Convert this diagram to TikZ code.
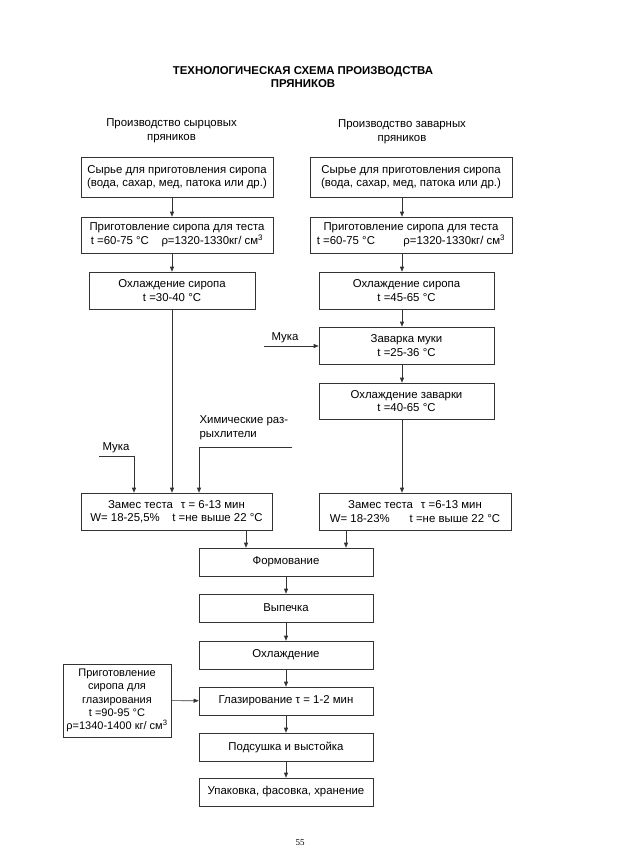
\documentclass[tikz,border=0pt]{standalone}
\usepackage{fontspec}
\setmainfont{Liberation Sans}
\newfontfamily\pagefont{Liberation Serif}
\usetikzlibrary{arrows.meta}

\begin{document}
\begin{tikzpicture}[x=1pt,y=-1pt,
  font=\fontsize{11.4}{13.5}\selectfont,
  box/.style={draw=black!80,line width=0.6pt,align=center,inner sep=1pt},
  flow/.style={draw=black!80,line width=0.6pt,-{Triangle[length=5pt,width=4pt]}}]
\path[use as bounding box] (0,0) rectangle (623,857);
\node[font=\bfseries\fontsize{11.4}{13}\selectfont,align=center] (title) at (303,77) {ТЕХНОЛОГИЧЕСКАЯ СХЕМА ПРОИЗВОДСТВА\\ПРЯНИКОВ};
\node[align=center] (headL) at (171.5,131) {Производство сырцовых\\пряников};
\node[align=center] (headR) at (402,132) {Производство заварных\\пряников};
\node[box,minimum width=192pt,minimum height=40pt] (L1) at (177,177) {Сырье для приготовления сиропа\\(вода, сахар, мед, патока или др.)};
\node[box,minimum width=202pt,minimum height=40pt] (R1) at (411,177) {Сырье для приготовления сиропа\\(вода, сахар, мед, патока или др.)};
\node[box,minimum width=192pt,minimum height=36pt] (L2) at (177,235) {Приготовление сиропа для теста\\t =60-75 °C\hspace{1.1em}ρ=1320-1330кг/ см\textsuperscript{3}};
\node[box,minimum width=202pt,minimum height=36pt] (R2) at (411,235) {Приготовление сиропа для теста\\t =60-75 °C\hspace{2.5em}ρ=1320-1330кг/ см\textsuperscript{3}};
\node[box,minimum width=166pt,minimum height=37pt] (L3) at (172,290.5) {Охлаждение сиропа\\t =30-40 °C};
\node[box,minimum width=175pt,minimum height=37pt] (R3) at (406.5,290.5) {Охлаждение сиропа\\t =45-65 °C};
\node[box,minimum width=175pt,minimum height=37pt] (R4) at (406.5,345.5) {Заварка муки\\t =25-36 °C};
\node[box,minimum width=175pt,minimum height=36pt] (R5) at (406.5,401) {Охлаждение заварки\\t =40-65 °C};
\node[box,minimum width=191pt,minimum height=37pt] (LM) at (176.5,511.5) {Замес теста\hspace{0.7em}τ = 6-13 мин\\W= 18-25,5\%\hspace{1.1em}t =не выше 22 °C};
\node[box,minimum width=192pt,minimum height=37pt] (RM) at (415,511.5) {Замес теста\hspace{0.7em}τ =6-13 мин\\W= 18-23\%\hspace{1.75em}t =не выше 22 °C};
\node[box,minimum width=174pt,minimum height=28pt] (F) at (286,562) {Формование};
\node[box,minimum width=174pt,minimum height=28pt] (V) at (286,608) {Выпечка};
\node[box,minimum width=174pt,minimum height=28pt] (O) at (286,655) {Охлаждение};
\node[box,minimum width=174pt,minimum height=28pt] (G) at (286,701) {Глазирование τ = 1-2 мин};
\node[box,minimum width=174pt,minimum height=28pt] (P) at (286,747) {Подсушка и выстойка};
\node[box,minimum width=174pt,minimum height=28pt] (U) at (286,792) {Упаковка, фасовка, хранение};
\node[box,minimum width=108pt,minimum height=73pt,inner sep=0pt,font=\fontsize{11}{13.3}\selectfont] (GS) at (117,700.5) {Приготовление\\сиропа для\\глазирования\\t =90-95 °C\\ρ=1340-1400 кг/ см\textsuperscript{3}};
\node (mukaL) at (116,448) {Мука};
\node (mukaR) at (285,338) {Мука};
\node[align=left,anchor=west] (chem) at (196,428) {Химические раз-\\рыхлители};
\node[font=\pagefont\fontsize{9}{10}\selectfont] (page) at (300,843) {55};
\coordinate (lc) at (172,0);
\coordinate (rc) at (402,0);
\coordinate (m1) at (99,456);
\coordinate (m1e) at (134,456);
\coordinate (ch) at (292,447);
\coordinate (che) at (199,447);
\coordinate (m2) at (264,346);
\coordinate (fl) at (246,0);
\coordinate (fr) at (346,0);
\draw[flow] (L1.south -| lc) -- (L2.north -| lc);
\draw[flow] (L2.south -| lc) -- (L3.north -| lc);
\draw[flow] (L3.south -| lc) -- (LM.north -| lc);
\draw[flow] (R1.south -| rc) -- (R2.north -| rc);
\draw[flow] (R2.south -| rc) -- (R3.north -| rc);
\draw[flow] (R3.south -| rc) -- (R4.north -| rc);
\draw[flow] (R4.south -| rc) -- (R5.north -| rc);
\draw[flow] (R5.south -| rc) -- (RM.north -| rc);
\draw[flow] (m2) -- (m2 -| R4.west);
\draw[flow] (m1) -| (m1e |- LM.north);
\draw[flow] (ch) -| (che |- LM.north);
\draw[flow] (LM.south -| fl) -- (F.north -| fl);
\draw[flow] (RM.south -| fr) -- (F.north -| fr);
\draw[flow] (F) -- (V);
\draw[flow] (V) -- (O);
\draw[flow] (O) -- (G);
\draw[flow] (G) -- (P);
\draw[flow] (P) -- (U);
\draw[flow] (GS) -- (G);
\end{tikzpicture}
\end{document}
